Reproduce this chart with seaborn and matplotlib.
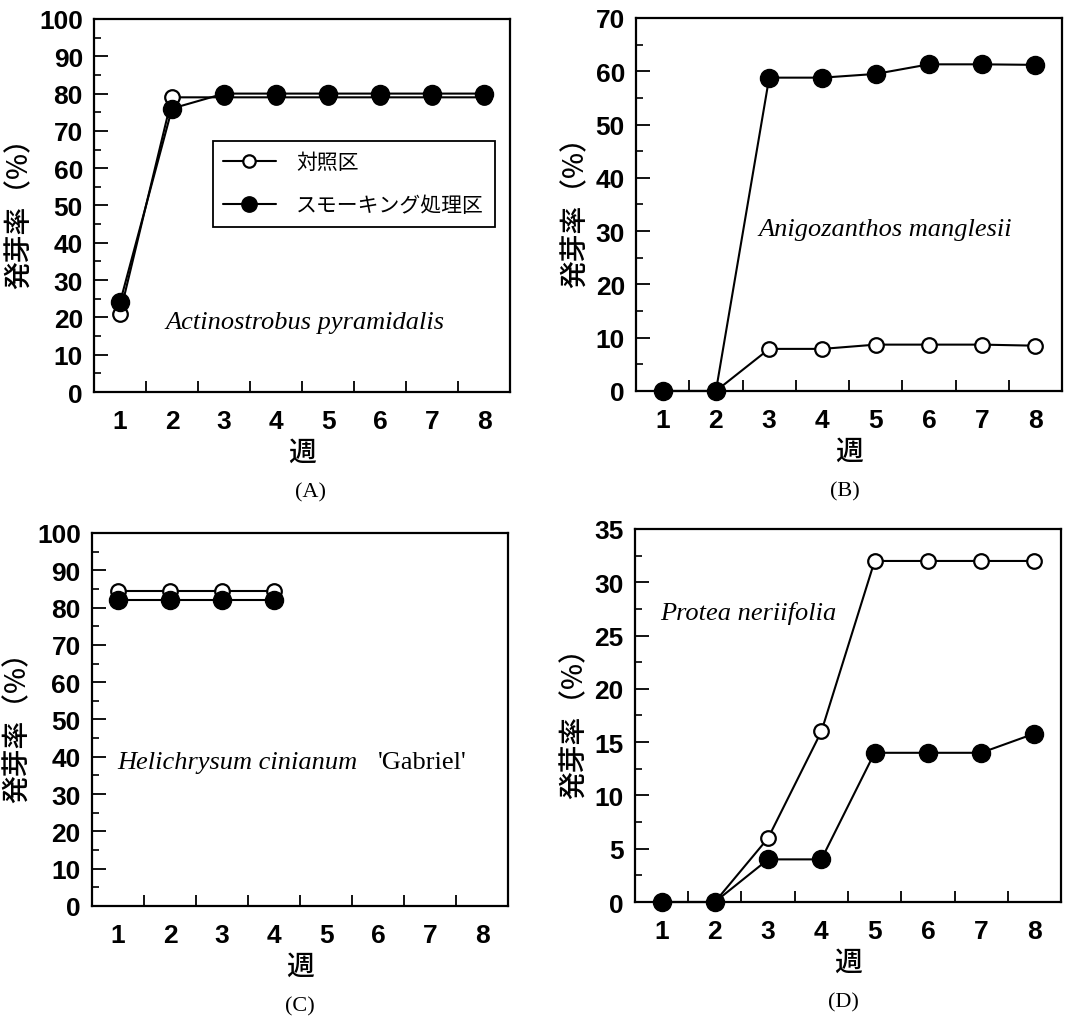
import matplotlib
matplotlib.use("Agg")
import matplotlib.pyplot as plt
import numpy as np
import pandas as pd
import seaborn as sns


WEEKS = [1, 2, 3, 4, 5, 6, 7, 8]
WEEKS_C = [1, 2, 3, 4]

A_CONTROL = [21, 79, 79, 79, 79, 79, 79, 79]
A_SMOKE = [24, 76, 80, 80, 80, 80, 80, 80]

B_CONTROL = [0, 0, 7.9, 7.9, 8.7, 8.7, 8.7, 8.5]
B_SMOKE = [0, 0, 58.8, 58.8, 59.5, 61.3, 61.3, 61.2]

C_CONTROL = [84.5, 84.5, 84.5, 84.5]
C_SMOKE = [82.1, 82.1, 82.1, 82.1]

D_CONTROL = [0, 0, 6, 16, 32, 32, 32, 32]
D_SMOKE = [0, 0, 4, 4, 14, 14, 14, 15.8]

LABEL_CONTROL = "対照区"
LABEL_SMOKE = "スモーキング処理区"
Y_LABEL = "発芽率（%）"
X_LABEL = "週"

SANS = ["Liberation Sans", "Noto Sans CJK JP", "DejaVu Sans"]
CJK = ["Noto Sans CJK JP", "DejaVu Sans"]
SERIF = ["Liberation Serif", "DejaVu Serif"]


def draw_series(ax, x, y, filled, label):
    """Une série : ligne noire + cercles ouverts ou pleins."""
    sns.lineplot(
        x=x,
        y=y,
        ax=ax,
        color="black",
        linewidth=1.5,
        marker="o",
        markersize=13 if filled else 10.5,
        markerfacecolor="black" if filled else "white",
        markeredgecolor="black",
        markeredgewidth=1.0 if filled else 1.6,
        label=label,
        legend=False,
        clip_on=False,
        zorder=4 if filled else 3,
    )


def style_axes(ax, ymax, ystep):
    ax.set_xlim(0.5, 8.5)
    ax.set_ylim(0, ymax)

    ax.set_xticks(WEEKS)
    ax.set_xticklabels([str(w) for w in WEEKS])
    ax.set_xticks(np.arange(1.5, 8.0, 1.0), minor=True)
    ax.tick_params(axis="x", which="major", bottom=True, top=False,
                   length=0, pad=12, labelsize=19, labelcolor="black")
    ax.tick_params(axis="x", which="minor", bottom=True, top=False,
                   direction="in", length=8, width=1.3, color="black")

    ax.set_yticks(np.arange(0, ymax + 0.1, ystep))
    ax.set_yticks(np.arange(ystep / 2, ymax, ystep), minor=True)
    ax.tick_params(axis="y", which="major", left=True, right=False,
                   direction="in", length=10, width=1.3, pad=8,
                   labelsize=19, labelcolor="black", color="black")
    ax.tick_params(axis="y", which="minor", left=True, right=False,
                   direction="in", length=5, width=1.2, color="black")

    for label in ax.get_xticklabels() + ax.get_yticklabels():
        label.set_fontweight("bold")
        label.set_family(SANS)

    for spine in ax.spines.values():
        spine.set_visible(True)
        spine.set_linewidth(1.6)
        spine.set_color("black")

    ax.set_ylabel(Y_LABEL, fontsize=20, fontweight="medium", family=CJK,
                  color="black", labelpad=4)
    ax.set_xlabel(X_LABEL, fontsize=20, fontweight="medium", family=CJK,
                  color="black", labelpad=3)


def species_text(ax, x, y, text, extra=None, extra_x=None):
    ax.text(x, y, text, fontsize=19, style="italic", family=SERIF,
            color="black", ha="left", va="center")
    if extra is not None:
        ax.text(extra_x, y, extra, fontsize=19, family=SERIF,
                color="black", ha="left", va="center")


def panel_label(ax, x, text):
    ax.text(x, -0.268, text, fontsize=16, family=SERIF, ha="center",
            va="center", color="black", transform=ax.transAxes)


def main():
    sns.set_theme(style="white")
    plt.rcParams["font.family"] = SANS
    plt.rcParams["text.color"] = "black"

    fig = plt.figure(figsize=(10.67, 10.2), dpi=100)
    ax_a = fig.add_axes([0.0881, 0.6147, 0.390, 0.3657])
    ax_b = fig.add_axes([0.5961, 0.6157, 0.3993, 0.3657])
    ax_c = fig.add_axes([0.0862, 0.1108, 0.390, 0.3657])
    ax_d = fig.add_axes([0.5951, 0.1147, 0.3993, 0.3657])

    # (A)
    draw_series(ax_a, WEEKS, A_CONTROL, False, LABEL_CONTROL)
    draw_series(ax_a, WEEKS, A_SMOKE, True, LABEL_SMOKE)
    style_axes(ax_a, 100, 10)
    species_text(ax_a, 1.87, 18.8, "Actinostrobus pyramidalis")
    legend = ax_a.legend(
        handles=ax_a.get_lines(),
        loc="upper left",
        bbox_to_anchor=(0.286, 0.673),
        prop={"family": CJK, "size": 15},
        frameon=True,
        fancybox=False,
        edgecolor="black",
        framealpha=1,
        handlelength=2.5,
        markerscale=0.85,
        borderpad=0.5,
        labelspacing=1.0,
        handletextpad=1.0,
        borderaxespad=0,
    )
    legend.get_frame().set_linewidth(1.3)
    for text in legend.get_texts():
        text.set_color("black")
    panel_label(ax_a, 0.52, "(A)")

    # (B)
    draw_series(ax_b, WEEKS, B_CONTROL, False, LABEL_CONTROL)
    draw_series(ax_b, WEEKS, B_SMOKE, True, LABEL_SMOKE)
    style_axes(ax_b, 70, 10)
    species_text(ax_b, 2.79, 30.4, "Anigozanthos manglesii")
    panel_label(ax_b, 0.49, "(B)")

    # (C)
    draw_series(ax_c, WEEKS_C, C_CONTROL, False, LABEL_CONTROL)
    draw_series(ax_c, WEEKS_C, C_SMOKE, True, LABEL_SMOKE)
    style_axes(ax_c, 100, 10)
    species_text(ax_c, 0.98, 38.6, "Helichrysum cinianum",
                 extra="'Gabriel'", extra_x=6.0)
    panel_label(ax_c, 0.5, "(C)")

    # (D)
    draw_series(ax_d, WEEKS, D_CONTROL, False, LABEL_CONTROL)
    draw_series(ax_d, WEEKS, D_SMOKE, True, LABEL_SMOKE)
    style_axes(ax_d, 35, 5)
    species_text(ax_d, 0.97, 27.2, "Protea neriifolia")
    panel_label(ax_d, 0.49, "(D)")

    fig.savefig("out.png", dpi=100, facecolor="white")
    plt.close(fig)


if __name__ == "__main__":
    main()
